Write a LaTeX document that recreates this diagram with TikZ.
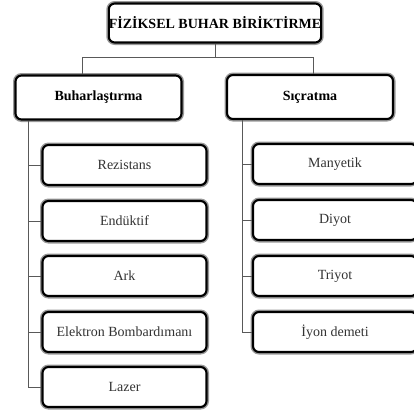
\documentclass[tikz,border=0pt]{standalone}
\usepackage{fontspec}
\setmainfont{Liberation Serif}
\begin{document}
\begin{tikzpicture}[x=1pt,y=-1pt,
  box/.style={draw=black, line width=2.1pt, rounded corners=6pt, fill=white,
    inner sep=0pt, text=black!80, font=\fontsize{14}{16}\selectfont,
    preaction={draw=black!40, line width=5pt}},
  head/.style={box, text=black, font=\fontsize{14}{16}\selectfont\bfseries},
  link/.style={draw=black!65, line width=1pt}]
\useasboundingbox (0,0) rectangle (413,415);

% root and the two branches
\node[head, minimum width=212pt, minimum height=39pt] (root) at (215,23) {FİZİKSEL BUHAR BİRİKTİRME};
\node[head, minimum width=166pt, minimum height=44pt] (buh) at (98.5,97.5) {Buharlaştırma};
\node[head, minimum width=166pt, minimum height=44pt] (sic) at (310,97) {Sıçratma};

% evaporation methods
\node[box, minimum width=164pt, minimum height=40pt] (rez) at (124.5,165) {Rezistans};
\node[box, minimum width=164pt, minimum height=40pt] (end) at (124.5,221) {Endüktif};
\node[box, minimum width=164pt, minimum height=40pt] (ark) at (124.5,276) {Ark};
\node[box, minimum width=164pt, minimum height=40pt] (elb) at (124.5,332) {Elektron Bombardımanı};
\node[box, minimum width=164pt, minimum height=40pt] (laz) at (124.5,387) {Lazer};

% sputtering methods
\node[box, minimum width=164pt, minimum height=40pt] (man) at (335,164) {Manyetik};
\node[box, minimum width=164pt, minimum height=40pt] (diy) at (335,220) {Diyot};
\node[box, minimum width=164pt, minimum height=40pt] (tri) at (335,276) {Triyot};
\node[box, minimum width=164pt, minimum height=40pt] (iyo) at (335,332) {İyon demeti};

% junction points of the tree
\coordinate (bus) at (215,57);
\coordinate (lx) at (28,0);
\coordinate (rx) at (242,0);

% root to branches
\draw[link] (root.south) -- (bus);
\draw[link] (bus) -| ([xshift=-16pt]buh.north);
\draw[link] (bus) -| ([xshift=3pt]sic.north);

% left spine
\draw[link] (buh.south -| lx) -- (laz.west -| lx);
\foreach \n in {rez,end,ark,elb,laz}
  \draw[link] (\n.west -| lx) -- (\n.west);

% right spine
\draw[link] (sic.south -| rx) -- (iyo.west -| rx);
\foreach \n in {man,diy,tri,iyo}
  \draw[link] (\n.west -| rx) -- (\n.west);
\end{tikzpicture}
\end{document}
